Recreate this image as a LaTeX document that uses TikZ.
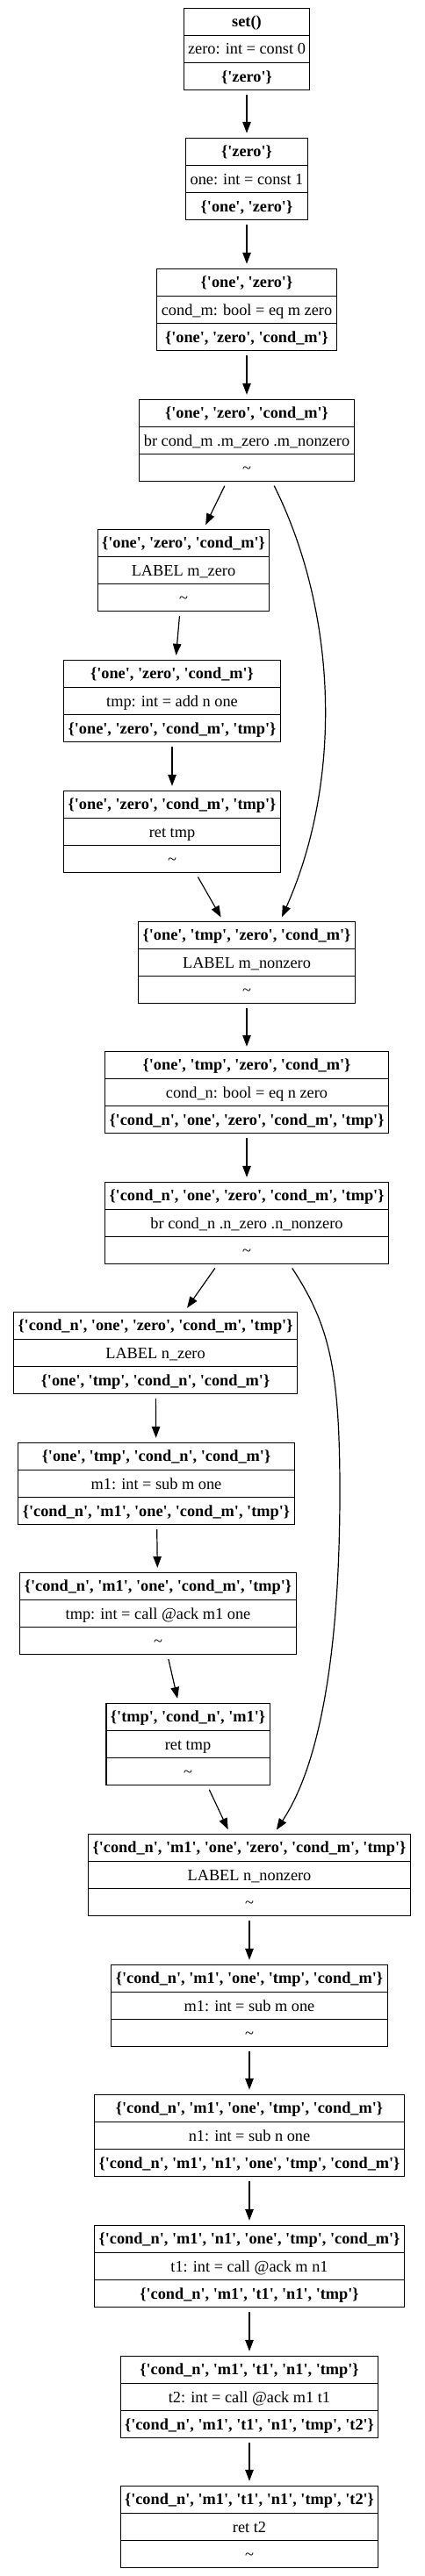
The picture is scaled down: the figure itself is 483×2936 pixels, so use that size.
\documentclass[tikz,border=0pt]{standalone}
\usepackage{fontspec}
\setmainfont{Liberation Serif}[Ligatures=TeXOff]
\usetikzlibrary{shapes.multipart,arrows.meta}
\newcommand{\rs}{\rule[-5pt]{0pt}{22pt}}
\tikzset{
	blk/.style={draw, line width=1.1pt, rectangle split, rectangle split parts=3,
		inner xsep=5pt, inner ysep=4pt, font=\fontsize{18.3}{22}\selectfont},
	flow/.style={line width=1.2pt, -{Triangle[length=13pt,width=9.5pt]},
		shorten <=5pt, shorten >=5pt}
}
\begin{document}
\begin{tikzpicture}[x=1pt,y=-1pt]
		
		\useasboundingbox (0,0) rectangle (483,2936);
		
		\node[blk] (b1) at (281,56) {\rs\textbf{set()}\nodepart{two}\rs zero: int = const 0\nodepart{three}\rs\textbf{\{'zero'\}}};
		\node[blk] (b2) at (281,204) {\rs\textbf{\{'zero'\}}\nodepart{two}\rs one: int = const 1\nodepart{three}\rs\textbf{\{'one', 'zero'\}}};
		\node[blk] (b3) at (281,353) {\rs\textbf{\{'one', 'zero'\}}\nodepart{two}\rs cond\_m: bool = eq m zero\nodepart{three}\rs\textbf{\{'one', 'zero', 'cond\_m'\}}};
		\node[blk] (b4) at (281,502) {\rs\textbf{\{'one', 'zero', 'cond\_m'\}}\nodepart{two}\rs br cond\_m .m\_zero .m\_nonzero\nodepart{three}\rs\textasciitilde};
		\node[blk] (b5) at (209,650) {\rs\textbf{\{'one', 'zero', 'cond\_m'\}}\nodepart{two}\rs LABEL m\_zero\nodepart{three}\rs\textasciitilde};
		\node[blk] (b6) at (196,799) {\rs\textbf{\{'one', 'zero', 'cond\_m'\}}\nodepart{two}\rs tmp: int = add n one\nodepart{three}\rs\textbf{\{'one', 'zero', 'cond\_m', 'tmp'\}}};
		\node[blk] (b7) at (196,948) {\rs\textbf{\{'one', 'zero', 'cond\_m', 'tmp'\}}\nodepart{two}\rs ret tmp\nodepart{three}\rs\textasciitilde};
		\node[blk] (b8) at (281,1097) {\rs\textbf{\{'one', 'tmp', 'zero', 'cond\_m'\}}\nodepart{two}\rs LABEL m\_nonzero\nodepart{three}\rs\textasciitilde};
		\node[blk] (b9) at (281,1245) {\rs\textbf{\{'one', 'tmp', 'zero', 'cond\_m'\}}\nodepart{two}\rs cond\_n: bool = eq n zero\nodepart{three}\rs\textbf{\{'cond\_n', 'one', 'zero', 'cond\_m', 'tmp'\}}};
		\node[blk] (b10) at (281,1394) {\rs\textbf{\{'cond\_n', 'one', 'zero', 'cond\_m', 'tmp'\}}\nodepart{two}\rs br cond\_n .n\_zero .n\_nonzero\nodepart{three}\rs\textasciitilde};
		\node[blk] (b11) at (177,1542) {\rs\textbf{\{'cond\_n', 'one', 'zero', 'cond\_m', 'tmp'\}}\nodepart{two}\rs LABEL n\_zero\nodepart{three}\rs\textbf{\{'one', 'tmp', 'cond\_n', 'cond\_m'\}}};
		\node[blk] (b12) at (178,1691) {\rs\textbf{\{'one', 'tmp', 'cond\_n', 'cond\_m'\}}\nodepart{two}\rs m1: int = sub m one\nodepart{three}\rs\textbf{\{'cond\_n', 'm1', 'one', 'cond\_m', 'tmp'\}}};
		\node[blk] (b13) at (180,1839) {\rs\textbf{\{'cond\_n', 'm1', 'one', 'cond\_m', 'tmp'\}}\nodepart{two}\rs tmp: int = call @ack m1 one\nodepart{three}\rs\textasciitilde};
		\node[blk] (b14) at (214,1988) {\rs\textbf{\{'tmp', 'cond\_n', 'm1'\}}\nodepart{two}\rs ret tmp\nodepart{three}\rs\textasciitilde};
		\node[blk] (b15) at (284,2137) {\rs\textbf{\{'cond\_n', 'm1', 'one', 'zero', 'cond\_m', 'tmp'\}}\nodepart{two}\rs LABEL n\_nonzero\nodepart{three}\rs\textasciitilde};
		\node[blk] (b16) at (284,2286) {\rs\textbf{\{'cond\_n', 'm1', 'one', 'tmp', 'cond\_m'\}}\nodepart{two}\rs m1: int = sub m one\nodepart{three}\rs\textasciitilde};
		\node[blk] (b17) at (284,2434) {\rs\textbf{\{'cond\_n', 'm1', 'one', 'tmp', 'cond\_m'\}}\nodepart{two}\rs n1: int = sub n one\nodepart{three}\rs\textbf{\{'cond\_n', 'm1', 'n1', 'one', 'tmp', 'cond\_m'\}}};
		\node[blk] (b18) at (284,2583) {\rs\textbf{\{'cond\_n', 'm1', 'n1', 'one', 'tmp', 'cond\_m'\}}\nodepart{two}\rs t1: int = call @ack m n1\nodepart{three}\rs\textbf{\{'cond\_n', 'm1', 't1', 'n1', 'tmp'\}}};
		\node[blk] (b19) at (284,2732) {\rs\textbf{\{'cond\_n', 'm1', 't1', 'n1', 'tmp'\}}\nodepart{two}\rs t2: int = call @ack m1 t1\nodepart{three}\rs\textbf{\{'cond\_n', 'm1', 't1', 'n1', 'tmp', 't2'\}}};
		\node[blk] (b20) at (284,2880) {\rs\textbf{\{'cond\_n', 'm1', 't1', 'n1', 'tmp', 't2'\}}\nodepart{two}\rs ret t2\nodepart{three}\rs\textasciitilde};
		
		\foreach \a/\b in {b1/b2, b2/b3, b3/b4, b4/b5, b5/b6, b6/b7, b7/b8, b8/b9, b9/b10,
			b10/b11, b11/b12, b12/b13, b13/b14, b14/b15, b15/b16, b16/b17, b17/b18, b18/b19, b19/b20}{
			\draw[flow] (\a) -- (\b);
		}
		
		\draw[flow] ([xshift=29pt]b4.south) .. controls (385,700) and (390,890) .. ([xshift=38pt]b8.north);
		\draw[flow] ([xshift=49pt]b10.south) .. controls (375,1510) and (387,1560) .. (387,1700)
			.. controls (387,1880) and (365,2010) .. ([xshift=28pt]b15.north);
		
\end{tikzpicture}
\end{document}
